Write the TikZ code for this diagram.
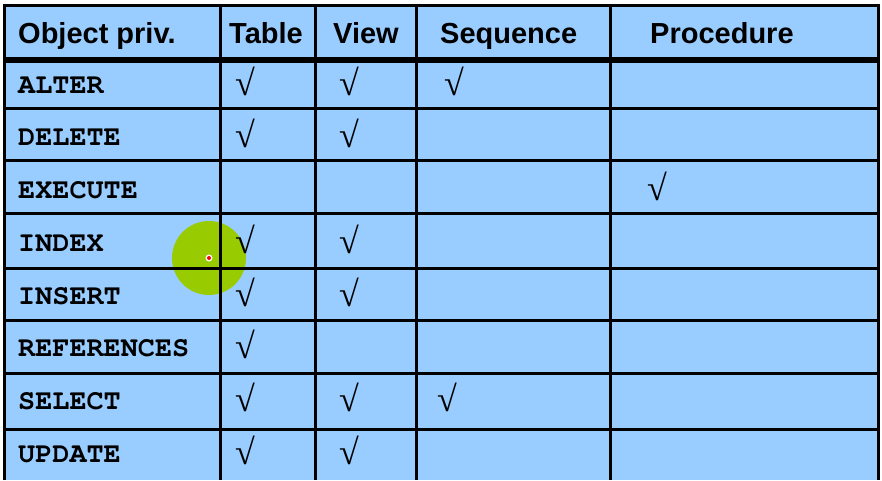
\documentclass[tikz,border=0pt]{standalone}
\usepackage{fontspec}
\setmainfont{Liberation Serif}
\setsansfont{Liberation Sans}
\setmonofont{TeX Gyre Cursor}
\definecolor{cellblue}{RGB}{153,204,255}
\definecolor{spotgreen}{RGB}{153,204,0}
\tikzset{
  headtext/.style={anchor=base west,inner sep=0pt,font=\sffamily\bfseries\fontsize{29}{29}\selectfont},
  privtext/.style={anchor=base west,inner sep=0pt,font=\ttfamily\bfseries\fontsize{28.5}{28.5}\selectfont},
  tickmark/.style={inner sep=0pt,font=\rmfamily\fontsize{36}{36}\selectfont},
  gridline/.style={line width=3pt},
}
\begin{document}
\begin{tikzpicture}[x=1pt,y=-1pt]
    \useasboundingbox (0,0) rectangle (882,480);
    \fill[white] (0,0) rectangle (882,480);
    \fill[cellblue] (4,5) rectangle (878,480);

    % pointer spot
    \fill[spotgreen] (209,258) circle (37pt);

    % grid
    \draw[gridline] (4,480) -- (4,5) -- (878,5) -- (878,480);
    \foreach \x in {220,315,416,610}
        \draw[gridline] (\x,5) -- (\x,480);
    \foreach \y in {108,160,213,268,320,373,429}
        \draw[gridline] (4,\y) -- (878,\y);
    \draw[line width=6pt] (4,60) -- (878,60);

    \fill[white] (209,258) circle (3.5pt);
    \fill[red] (209,258) circle (2pt);

    % header
    \node[headtext] (hobj) at (18,43) {Object priv.};
    \node[headtext] (htab) at (229,43) {Table};
    \node[headtext] (hview) at (333,43) {View};
    \node[headtext] (hseq) at (440,43) {Sequence};
    \node[headtext] (hproc) at (650,43) {Procedure};

    % privileges
    \foreach \y/\name in {93/ALTER,145/DELETE,198/EXECUTE,251/INDEX,304/INSERT,356/REFERENCES,409/SELECT,462/UPDATE}
        \node[privtext] (p\name) at (18,\y) {\name};

    % ticks
    \foreach \y [count=\i] in {81,133,239,292,344,397,450}
        \node[tickmark] (ttab\i) at (245,\y) {√};
    \foreach \y [count=\i] in {81,133,239,292,397,450}
        \node[tickmark] (tview\i) at (349,\y) {√};
    \node[tickmark] (tseq1) at (454,81) {√};
    \node[tickmark] (tseq2) at (447,397) {√};
    \node[tickmark] (tproc1) at (657,186) {√};
\end{tikzpicture}
\end{document}
